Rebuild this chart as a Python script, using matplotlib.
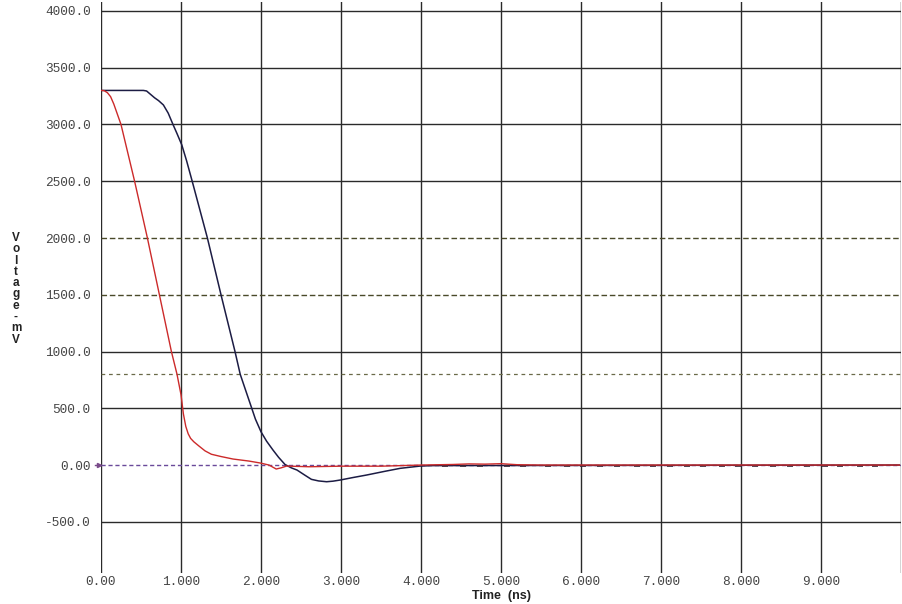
import matplotlib

matplotlib.use("Agg")
import matplotlib.pyplot as plt

# Signal traces (time in ns, voltage in mV).
red_t = [0.00, 0.04, 0.08, 0.12, 0.16, 0.20, 0.25, 0.42, 0.58, 0.73, 0.88,
         0.95, 1.00, 1.03, 1.06, 1.09, 1.12, 1.16, 1.22, 1.30, 1.38, 1.50,
         1.65, 1.85, 1.99, 2.10, 2.19, 2.25, 2.32, 2.60, 3.00, 3.50, 4.00,
         4.40, 4.60, 4.80, 5.00, 5.20, 5.50, 9.98]
red_v = [3300, 3298, 3280, 3245, 3180, 3100, 3000, 2500, 2000, 1500, 1000,
         800, 620, 450, 340, 275, 235, 205, 170, 125, 95, 75,
         53, 35, 18, 0, -35, -25, -9, -15, -10, -10, 0,
         5, 10, 8, 12, 3, 0, 0]

black_t = [0.00, 0.53, 0.57, 0.62, 0.67, 0.72, 0.78, 0.84, 0.90, 0.95,
           1.01, 1.07, 1.14, 1.33, 1.50, 1.675, 1.74, 1.80, 1.87, 1.93,
           2.00, 2.07, 2.15, 2.22, 2.30, 2.38, 2.45, 2.55, 2.63, 2.72,
           2.82, 2.90, 2.99, 3.15, 3.32, 3.55, 3.74, 3.99, 4.15, 9.98]
black_v = [3300, 3300, 3295, 3265, 3235, 3210, 3172, 3100, 3000, 2920,
           2820, 2680, 2500, 2000, 1500, 1000, 800, 675, 530, 405,
           293, 210, 132, 68, 5, -25, -44, -90, -126, -140,
           -147, -142, -132, -110, -88, -55, -29, -9, -5, 0]

# small dark ripples of the black trace visible along the zero line
ripple_t = [4.30, 4.525, 4.74, 5.075, 5.275, 5.59, 5.825, 6.025, 6.24, 6.45,
            6.70, 6.90, 7.11, 7.325, 7.525, 7.76, 7.96, 8.175, 8.40, 8.61,
            8.825, 9.05, 9.24, 9.49, 9.675]
ripple_v = [-5] * len(ripple_t)

x_ticks = [0, 1, 2, 3, 4, 5, 6, 7, 8, 9]
x_labels = ["0.00", "1.000", "2.000", "3.000", "4.000", "5.000",
            "6.000", "7.000", "8.000", "9.000"]
y_ticks = [-500, 0, 500, 1000, 1500, 2000, 2500, 3000, 3500, 4000]
y_labels = ["-500.0", "0.00", "500.0", "1000.0", "1500.0", "2000.0",
            "2500.0", "3000.0", "3500.0", "4000.0"]
thresholds = [2000, 1500]   # dashed levels drawn instead of grid lines
vref = 800                  # lighter dashed level

W, H = 902, 604
fig = plt.figure(figsize=(W / 100, H / 100), dpi=100)
ax = fig.add_axes([101 / W, 31 / H, 800 / W, 571 / H])
ax.set_xlim(0, 10)
ax.set_ylim(-951, 4079)
for s in ax.spines.values():
    s.set_visible(False)

grid_c = "#2a2a2a"
for x in range(0, 11):
    ax.axvline(x, color=grid_c, lw=1.0, zorder=1)
for y in y_ticks:
    if y == 0 or y in thresholds:
        continue
    ax.axhline(y, color=grid_c, lw=1.0, zorder=1)
for y in thresholds:
    ax.axhline(y, color="#4a4a2a", lw=1.0, ls=(0, (4, 2)), zorder=1)
ax.axhline(vref, color="#6a6a48", lw=0.9, ls=(0, (3, 3)), zorder=1)
ax.axhline(0, color="#6a4a9a", lw=1.0, ls=(0, (3, 2)), zorder=2)
ax.plot([-0.08, -0.01], [0, 0], color="#7a4a8a", lw=1.0, clip_on=False)
ax.plot([-0.02], [0], marker=">", ms=3, color="#7a4a8a", clip_on=False)

ax.plot(black_t, black_v, color="#1c1c44", lw=1.1, zorder=3)
ax.plot(ripple_t, ripple_v, ls="none", marker="_", ms=4.5, mew=1.2,
        color="#3a2a3a", zorder=3)
ax.plot(red_t, red_v, color="#cc2a2a", lw=1.0, zorder=4)

mono = dict(family="Liberation Mono", size=9.2, color="#444444")
ax.set_xticks(x_ticks)
ax.set_xticklabels(x_labels, **mono)
ax.set_yticks(y_ticks)
ax.set_yticklabels(y_labels, **mono)
ax.tick_params(axis="both", length=0)
ax.tick_params(axis="y", pad=7.5)
ax.tick_params(axis="x", pad=2.5)

fig.text(501 / W, 1 - 599 / H, "Time  (ns)", ha="center", va="baseline",
         family="Liberation Sans", weight="bold", size=9, color="#222222")

# stacked vertical y label
for i, ch in enumerate("Voltage-mV"):
    fig.text(16 / W, 1 - (241 + i * 11.3) / H, ch, ha="center", va="baseline",
             family="Liberation Sans", weight="bold", size=8.5, color="#222222")

fig.savefig("out.png", dpi=100)
